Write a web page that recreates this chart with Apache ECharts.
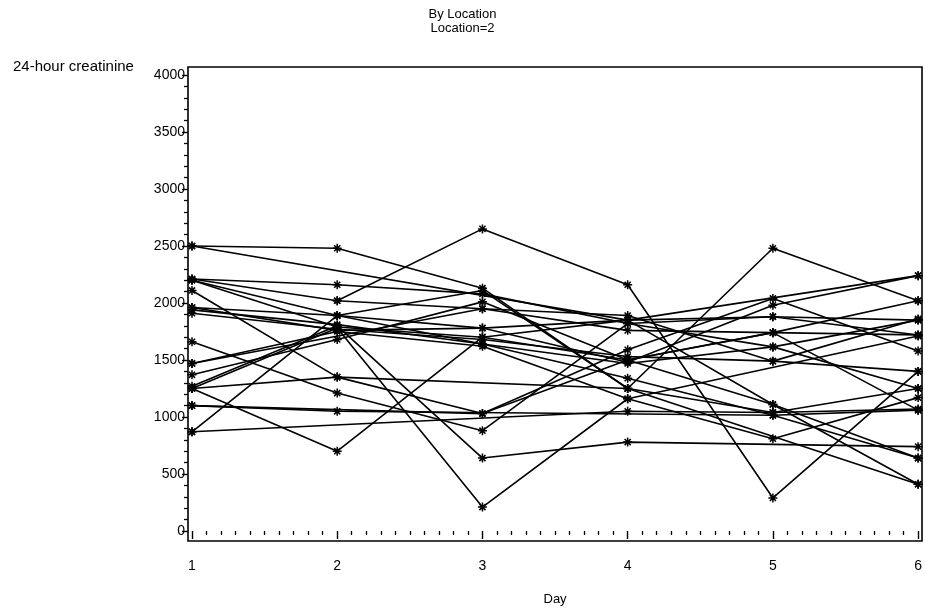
<!DOCTYPE html>
<html>
<head>
<meta charset="utf-8">
<script src="https://cdn.jsdelivr.net/npm/echarts@6/dist/echarts.min.js"></script>
<style>html,body{margin:0;padding:0;background:#fff}#c{width:925px;height:611px}</style>
</head>
<body>
<div id="c"></div>
<script>
const days = [1, 2, 3, 4, 5, 6];
const xTicks = ['1', '2', '3', '4', '5', '6'];
const yTicks = [0, 500, 1000, 1500, 2000, 2500, 3000, 3500, 4000];
// 24-hour creatinine per subject, one value per day (null = missing)
const s01 = [2500, 2480, 2130, 1250, 2480, 2020];
const s02 = [2500, null, null, 1850, null, 2240];
const s03 = [null, 2020, 2650, 2160, 290, 1400];
const s04 = [2210, 2160, 2080, 1820, 1880, 1850];
const s05 = [2210, 2020, 1950, 1760, 1740, 1720];
const s06 = [2200, 1790, 1700, 1500, 1110, 410];
const s07 = [2110, 1350, 1030, 1590, 2040, 1580];
const s08 = [1960, 1890, 1780, 1480, 1980, 2240];
const s09 = [1940, 1810, 1640, 1340, 1015, 640];
const s10 = [1910, 1770, 1680, 1530, 1490, 1860];
const s11 = [1660, 1210, 880, 1820, 1615, 1250];
const s12 = [1470, 1750, 1620, 1160, 810, 1170];
const s13 = [1370, 1680, 2010, 1500, 1740, 1060];
const s14 = [1270, 1800, 640, 780, null, 740];
const s15 = [1250, 700, 1700, 1850, 1110, 640];
const s16 = [1100, 1050, null, null, 1015, 1060];
const s17 = [1250, 1780, 210, 1160, null, 1710];
const s18 = [870, null, null, 1050, 1040, 1070];
const s19 = [870, 1890, 2110, 1250, null, 410];
const s20 = [1470, null, 1950, 1890, 1490, 1400];
const s21 = [1960, 1760, 1780, 1850, 1880, 1720];
const s22 = [2200, 1890, 1640, 1470, 1615, 1850];
const s23 = [1250, 1350, null, 1250, 1040, 1250];
const s24 = [1100, null, 1030, 1500, 1740, 2020];
const subjects = [s01, s02, s03, s04, s05, s06, s07, s08, s09, s10, s11, s12,
                  s13, s14, s15, s16, s17, s18, s19, s20, s21, s22, s23, s24];

const star = 'path://M0,5L10,5M5,0L5,10M1.6,1.6L8.4,8.4M1.6,8.4L8.4,1.6';
const font = 'Liberation Sans, Arial, sans-serif';

const chart = echarts.init(document.getElementById('c'), null, {renderer: 'canvas'});
const series = subjects.map((vals, i) => ({
  type: 'line',
  xAxisIndex: 1, yAxisIndex: 1,
  data: days.map((d, k) => [d, vals[k]]),
  connectNulls: true,
  symbol: star,
  symbolSize: 9,
  showSymbol: true,
  lineStyle: {color: '#000', width: 1.6},
  itemStyle: {color: 'rgba(0,0,0,0)', borderColor: '#000', borderWidth: 1.5},
  emphasis: {disabled: true},
  animation: false,
  z: 3
}));

chart.setOption({
  animation: false,
  backgroundColor: '#fff',
  title: [
    {text: 'By Location', left: 'center', top: 3, textStyle: {fontFamily: font, fontSize: 13, fontWeight: 'normal', color: '#000'}},
    {text: 'Location=2', left: 'center', top: 17, textStyle: {fontFamily: font, fontSize: 13, fontWeight: 'normal', color: '#000'}},
    {text: '24-hour creatinine', left: 8, top: 54, textStyle: {fontFamily: font, fontSize: 15, fontWeight: 'normal', color: '#000'}}
  ],
  grid: [
    {left: 188, top: 67, width: 734, height: 474, show: true, borderColor: '#000', borderWidth: 1.6, backgroundColor: 'transparent'},
    {left: 192, top: 75, width: 727, height: 460}
  ],
  xAxis: [
    {gridIndex: 0, type: 'value', show: false, min: 0, max: 1},
    {
      gridIndex: 1, type: 'value', min: 1, max: 6, interval: 1, position: 'bottom', offset: 6,
      name: 'Day', nameLocation: 'middle', nameGap: 56,
      nameTextStyle: {fontFamily: font, fontSize: 13, color: '#000'},
      axisLine: {show: false},
      axisTick: {show: true, inside: false, length: 8, lineStyle: {color: '#000', width: 1.4}},
      minorTick: {show: true, splitNumber: 10, length: 4, lineStyle: {color: '#000', width: 1.3}},
      axisLabel: {fontFamily: font, fontSize: 14, color: '#000', margin: 22,
                  formatter: v => xTicks[Math.round(v) - 1] || ''},
      splitLine: {show: false}
    }
  ],
  yAxis: [
    {gridIndex: 0, type: 'value', show: false, min: 0, max: 1},
    {
      gridIndex: 1, type: 'value', min: 0, max: 4000, interval: 500, position: 'left', offset: 4,
      axisLine: {show: false},
      axisTick: {show: true, inside: false, length: 6, lineStyle: {color: '#000', width: 1.4}},
      minorTick: {show: true, splitNumber: 5, length: 4, lineStyle: {color: '#000', width: 1.3}},
      axisLabel: {fontFamily: font, fontSize: 14, color: '#000', margin: 3,
                  formatter: v => yTicks.indexOf(v) >= 0 ? String(v) : ''},
      splitLine: {show: false}
    }
  ],
  series: series
});
</script>
</body>
</html>
